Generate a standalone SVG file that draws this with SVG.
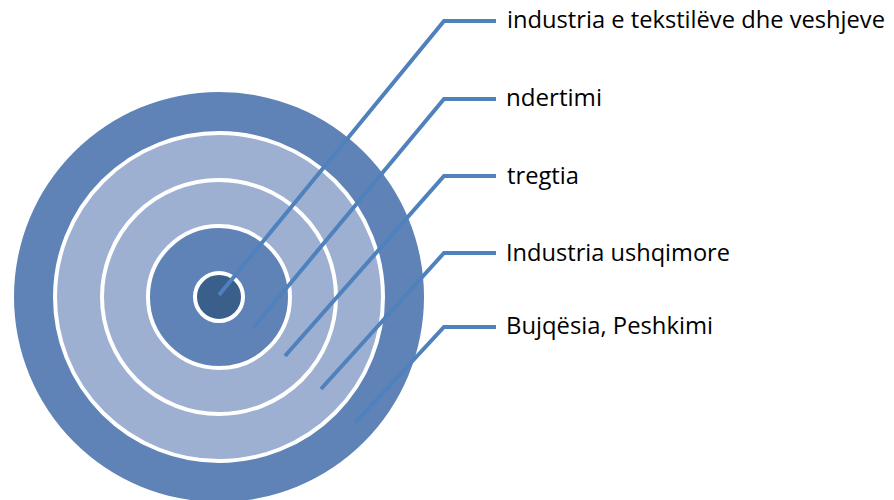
<svg xmlns="http://www.w3.org/2000/svg" width="894" height="500" viewBox="0 0 894 500">
<style>
.ring{stroke:#FFFFFF;stroke-width:4}
.mid{fill:#5F83B7}
.light{fill:#9DB0D2}
.dark{fill:#3A5F8B}
.conn{fill:none;stroke:#4F81BD;stroke-width:4;stroke-linejoin:miter}
.lbl{font-family:"Open Sans","Noto Sans","Liberation Sans",sans-serif;font-size:24px;fill:#000000}
</style>
<rect width="894" height="500" fill="#FFFFFF"/>
<g id="circles">
<circle id="ring5" class="mid" cx="219" cy="297" r="205"/>
<circle id="ring4" class="light ring" cx="219" cy="297" r="164"/>
<circle id="ring3" class="light ring" cx="219" cy="297" r="117"/>
<circle id="ring2" class="mid ring" cx="219" cy="297" r="71"/>
<circle id="ring1" class="dark ring" cx="219" cy="297" r="24"/>
</g>
<g id="connectors">
<polyline class="conn" points="219,295 444,21 496,21"/>
<polyline class="conn" points="254,327 444,99 496,99"/>
<polyline class="conn" points="285,356 444,176 496,176"/>
<polyline class="conn" points="321,389 444,253 496,253"/>
<polyline class="conn" points="355,423 444,327 496,327"/>
</g>
<g id="label1"><text class="lbl" x="507" y="28" textLength="378" lengthAdjust="spacingAndGlyphs">industria e tekstilëve dhe veshjeve</text></g>
<g id="label2"><text class="lbl" x="506" y="106" textLength="96" lengthAdjust="spacingAndGlyphs">ndertimi</text></g>
<g id="label3"><text class="lbl" x="507" y="184" textLength="72" lengthAdjust="spacingAndGlyphs">tregtia</text></g>
<g id="label4"><text class="lbl" x="506" y="261" textLength="224" lengthAdjust="spacingAndGlyphs">Industria ushqimore</text></g>
<g id="label5"><text class="lbl" x="506" y="334" textLength="207" lengthAdjust="spacingAndGlyphs">Bujqësia, Peshkimi</text></g>
</svg>
